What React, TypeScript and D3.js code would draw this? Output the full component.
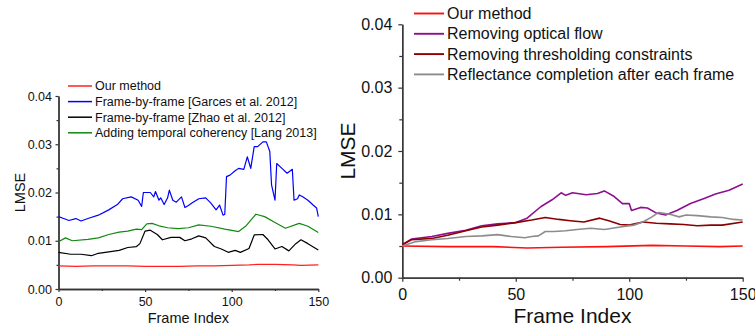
import { useRef, useEffect } from 'react';
import { select, scaleLinear, axisBottom, axisLeft, line, curveLinear } from 'd3';

// ============================================
// DATA
// ============================================

type Pt = [number, number];

const xTicks = [0, 50, 100, 150];
const xMinorTicks = [25, 75, 125];
const yTicks = [0, 0.01, 0.02, 0.03, 0.04];
const yMinorTicks = [0.005, 0.015, 0.025, 0.035];

// left panel
const leftOurs: Pt[] = [
  [0, 0.0048], [10, 0.0047], [20, 0.0048], [40, 0.0048], [50, 0.0047], [60, 0.0047], [70, 0.0047],
  [80, 0.0048], [90, 0.0048], [100, 0.0049], [110, 0.005], [115, 0.0051], [125, 0.0051],
  [135, 0.005], [140, 0.0049], [150, 0.005],
];

const leftGarces: Pt[] = [
  [0, 0.015], [3, 0.0146], [6, 0.0142], [10, 0.0146], [13, 0.0141], [17, 0.0146], [23, 0.0153],
  [29, 0.0164], [34, 0.0175], [37, 0.0187], [42, 0.0191], [46, 0.0184], [48, 0.0171], [49, 0.02],
  [53, 0.02], [55, 0.0191], [56, 0.0202], [58, 0.0184], [59, 0.0189], [61, 0.0175], [63, 0.0189],
  [64, 0.0205], [66, 0.0184], [68, 0.018], [71, 0.0191], [73, 0.0169], [75, 0.0173], [77, 0.0178],
  [81, 0.0187], [85, 0.0189], [88, 0.0178], [91, 0.0164], [93, 0.0174], [95, 0.0153], [96, 0.0155],
  [97, 0.0233], [99, 0.0236], [102, 0.0245], [104, 0.025], [107, 0.0248], [109, 0.0274],
  [111, 0.025], [113, 0.0295], [115, 0.0295], [118, 0.0305], [120, 0.0305], [122, 0.0285],
  [123, 0.0216], [125, 0.0184], [126, 0.026], [129, 0.025], [132, 0.024], [135, 0.0248],
  [136, 0.0184], [138, 0.0187], [139, 0.0195], [141, 0.0191], [144, 0.0184], [147, 0.0174],
  [149, 0.0168], [150, 0.015],
];

const leftZhao: Pt[] = [
  [0, 0.0076], [7, 0.0072], [13, 0.0072], [19, 0.0069], [23, 0.0074], [29, 0.0077], [35, 0.008],
  [40, 0.0086], [45, 0.0088], [47, 0.0094], [50, 0.012], [53, 0.0122], [57, 0.0113], [60, 0.0102],
  [65, 0.0107], [70, 0.0107], [73, 0.01], [77, 0.0104], [81, 0.011], [85, 0.0106], [90, 0.0088],
  [94, 0.0083], [98, 0.0076], [102, 0.008], [105, 0.0076], [110, 0.0084], [113, 0.0112],
  [118, 0.0113], [121, 0.0102], [125, 0.0083], [129, 0.0088], [133, 0.0079], [137, 0.0094],
  [140, 0.0102], [144, 0.0094], [150, 0.0081],
];

const leftLang: Pt[] = [
  [0, 0.0098], [4, 0.0106], [8, 0.01], [17, 0.0103], [23, 0.0106], [29, 0.0113], [35, 0.0118],
  [40, 0.012], [45, 0.0124], [48, 0.0123], [51, 0.0135], [54, 0.0136], [58, 0.0131], [63, 0.0127],
  [69, 0.0125], [75, 0.0127], [81, 0.0133], [88, 0.013], [96, 0.0124], [104, 0.0119],
  [108, 0.013], [114, 0.0155], [119, 0.015], [125, 0.0138], [131, 0.0126], [139, 0.0136],
  [144, 0.013], [150, 0.0117],
];

// right panel
const rightOurs: Pt[] = [
  [0, 0.005], [20, 0.0049], [40, 0.0049], [55, 0.0047], [70, 0.0048], [90, 0.0049], [110, 0.0051],
  [125, 0.005], [140, 0.0049], [150, 0.005],
];

const rightFlow: Pt[] = [
  [0, 0.0052], [4, 0.0061], [13, 0.0065], [20, 0.007], [28, 0.0075], [35, 0.0082], [42, 0.0085],
  [50, 0.0087], [55, 0.0094], [61, 0.0112], [66, 0.0123], [70, 0.0134], [72, 0.013], [75, 0.0134],
  [81, 0.0131], [86, 0.0133], [89, 0.0137], [93, 0.0129], [97, 0.0117], [100, 0.0117],
  [101, 0.0106], [105, 0.0111], [108, 0.011], [112, 0.0102], [116, 0.0099], [121, 0.0106],
  [127, 0.0117], [133, 0.0125], [138, 0.0132], [144, 0.0138], [150, 0.0148],
];

const rightThresh: Pt[] = [
  [0, 0.0052], [4, 0.006], [13, 0.0062], [20, 0.0067], [28, 0.0074], [35, 0.008], [42, 0.0083],
  [50, 0.0087], [57, 0.0091], [63, 0.0095], [69, 0.0092], [74, 0.009], [80, 0.0088], [87, 0.0094],
  [91, 0.009], [96, 0.0084], [100, 0.0083], [106, 0.0088], [112, 0.0086], [118, 0.0085],
  [124, 0.0084], [130, 0.0082], [136, 0.0083], [141, 0.0083], [150, 0.0088],
];

const rightRefl: Pt[] = [
  [0, 0.005], [6, 0.0057], [13, 0.006], [20, 0.0062], [28, 0.0065], [35, 0.0066], [42, 0.0068],
  [48, 0.0065], [54, 0.0063], [57, 0.0065], [60, 0.0066], [63, 0.0073], [67, 0.0073],
  [72, 0.0074], [77, 0.0076], [83, 0.0078], [89, 0.0076], [96, 0.008], [102, 0.0083],
  [106, 0.0088], [110, 0.0096], [113, 0.0103], [118, 0.01], [122, 0.0096], [125, 0.0099],
  [130, 0.0098], [136, 0.0096], [141, 0.0095], [146, 0.0092], [150, 0.0091],
];

const leftSeries = [
  { name: 'Our method', color: '#ff2020', data: leftOurs },
  { name: 'Frame-by-frame [Garces et al. 2012]', color: '#0000ff', data: leftGarces },
  { name: 'Frame-by-frame [Zhao et al. 2012]', color: '#000000', data: leftZhao },
  { name: 'Adding temporal coherency [Lang 2013]', color: '#118811', data: leftLang },
];

const rightSeries = [
  { name: 'Our method', color: '#ff1010', data: rightOurs },
  { name: 'Removing optical flow', color: '#8f108f', data: rightFlow },
  { name: 'Removing thresholding constraints', color: '#8b0000', data: rightThresh },
  { name: 'Reflectance completion after each frame', color: '#8c8c8c', data: rightRefl },
];

// ============================================
// PANEL
// ============================================

interface PanelCfg {
  series: { name: string; color: string; data: Pt[] }[];
  x0: number; x1: number; y0: number; y1: number;
  tickFont: number; titleFont: number; legendFont: number;
  tickLen: number; minorLen: number; xPad: number; yPad: number;
  xTitleY: number; yTitleX: number;
  legendX: number; legendY: number; legendStep: number; legendLine: number;
  strokeW: number;
}

const FONT = '"Liberation Sans", Arial, sans-serif';

function drawPanel(root: SVGGElement, c: PanelCfg) {
  const g = select(root);
  g.selectAll('*').remove();
  const x = scaleLinear().domain([0, 150]).range([c.x0, c.x1]);
  const y = scaleLinear().domain([0, 0.04]).range([c.y0, c.y1]);

  const styleAxis = (a: any) => {
    a.select('.domain').attr('stroke', '#333').attr('stroke-width', 1.3);
    a.selectAll('.tick line').attr('stroke', '#333').attr('stroke-width', 1.2);
    a.selectAll('text').attr('font-size', c.tickFont).attr('font-family', FONT).attr('fill', '#111');
  };

  const xa = g.append('g').attr('transform', `translate(0,${c.y0})`)
    .call(axisBottom(x).tickValues(xTicks).tickSizeInner(c.tickLen).tickSizeOuter(0).tickPadding(c.xPad).tickFormat((d) => String(d)));
  styleAxis(xa);
  const xm = g.append('g').attr('transform', `translate(0,${c.y0})`)
    .call(axisBottom(x).tickValues(xMinorTicks).tickSizeInner(c.minorLen).tickSizeOuter(0).tickFormat(() => ''));
  styleAxis(xm);

  const ya = g.append('g').attr('transform', `translate(${c.x0},0)`)
    .call(axisLeft(y).tickValues(yTicks).tickSizeInner(c.tickLen).tickSizeOuter(0).tickPadding(c.yPad).tickFormat((d) => (d as number).toFixed(2)));
  styleAxis(ya);
  const ym = g.append('g').attr('transform', `translate(${c.x0},0)`)
    .call(axisLeft(y).tickValues(yMinorTicks).tickSizeInner(c.minorLen).tickSizeOuter(0).tickFormat(() => ''));
  styleAxis(ym);

  const lineGen = line<Pt>().x((d) => x(d[0])).y((d) => y(d[1])).curve(curveLinear);
  c.series.forEach((s) => {
    g.append('path')
      .datum(s.data)
      .attr('d', lineGen)
      .attr('fill', 'none')
      .attr('stroke', s.color)
      .attr('stroke-width', c.strokeW)
      .attr('stroke-linejoin', 'round');
  });

  // titles
  g.append('text')
    .attr('x', (c.x0 + c.x1) / 2)
    .attr('y', c.xTitleY)
    .attr('text-anchor', 'middle')
    .attr('font-size', c.titleFont)
    .attr('font-family', FONT)
    .attr('fill', '#111')
    .text('Frame Index');
  g.append('text')
    .attr('transform', `translate(${c.yTitleX},${(c.y0 + c.y1) / 2}) rotate(-90)`)
    .attr('text-anchor', 'middle')
    .attr('font-size', c.titleFont)
    .attr('font-family', FONT)
    .attr('fill', '#111')
    .text('LMSE');

  // legend
  c.series.forEach((s, i) => {
    const ly = c.legendY + i * c.legendStep;
    g.append('line')
      .attr('x1', c.legendX)
      .attr('x2', c.legendX + c.legendLine)
      .attr('y1', ly)
      .attr('y2', ly)
      .attr('stroke', s.color)
      .attr('stroke-width', c.strokeW + 0.3);
    g.append('text')
      .attr('x', c.legendX + c.legendLine + 3)
      .attr('y', ly)
      .attr('dy', '0.35em')
      .attr('font-size', c.legendFont)
      .attr('font-family', FONT)
      .attr('fill', '#111')
      .text(s.name);
  });
}

const leftCfg: PanelCfg = {
  series: leftSeries,
  x0: 58.5, x1: 318.3, y0: 289, y1: 96,
  tickFont: 12.5, titleFont: 14.5, legendFont: 12.5,
  tickLen: 3, minorLen: 2, xPad: 5, yPad: 3.5,
  xTitleY: 322.5, yTitleX: 25,
  legendX: 68, legendY: 86, legendStep: 15.6, legendLine: 24,
  strokeW: 1.2,
};

const rightCfg: PanelCfg = {
  series: rightSeries,
  x0: 402.3, x1: 742.7, y0: 277.7, y1: 24.3,
  tickFont: 16, titleFont: 21, legendFont: 16,
  tickLen: 4, minorLen: 3, xPad: 7, yPad: 6,
  xTitleY: 322.5, yTitleX: 355,
  legendX: 414, legendY: 13.5, legendStep: 20.3, legendLine: 30,
  strokeW: 1.6,
};

export default function App() {
  const leftRef = useRef<SVGGElement>(null);
  const rightRef = useRef<SVGGElement>(null);

  useEffect(() => {
    if (leftRef.current) drawPanel(leftRef.current, leftCfg);
    if (rightRef.current) drawPanel(rightRef.current, rightCfg);
  }, []);

  return (
    <svg
      width={755}
      height={331}
      style={{ position: 'absolute', left: 0, top: 0, background: '#fff' }}
    >
      <g ref={leftRef} />
      <g ref={rightRef} />
    </svg>
  );
}
